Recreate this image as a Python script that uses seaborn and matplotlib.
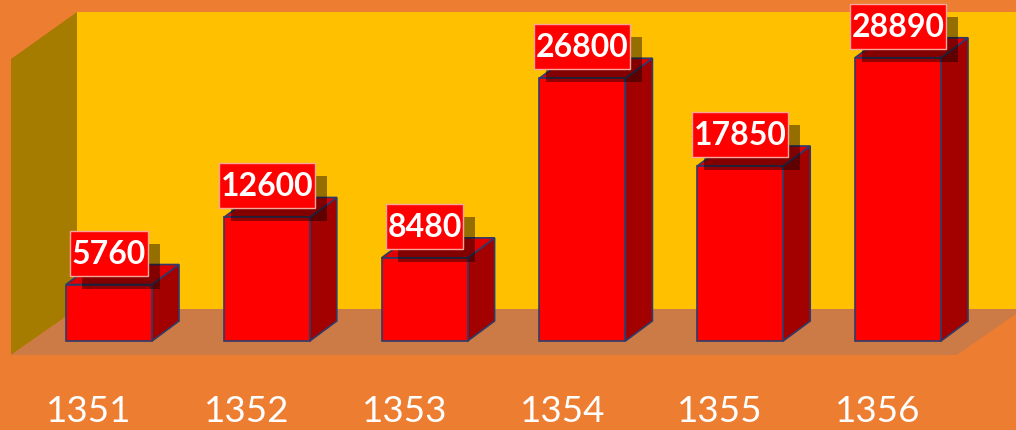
import numpy as np
import pandas as pd
import matplotlib
matplotlib.use("Agg")
import matplotlib.pyplot as plt
import matplotlib.transforms as mtransforms
from matplotlib.patches import Polygon, Rectangle
import seaborn as sns

years = ["1351", "1352", "1353", "1354", "1355", "1356"]
values = [5760, 12600, 8480, 26800, 17850, 28890]

W, H, DPI = 1016, 431, 100
sns.set_style("white")
plt.rcParams["font.family"] = ["Lato", "DejaVu Sans"]

fig = plt.figure(figsize=(W / DPI, H / DPI), dpi=DPI)
fig.patch.set_facecolor("#ED7D31")

# ---- background "3D" walls in pixel coordinates ----
bg = fig.add_axes([0, 0, 1, 1])
bg.set_xlim(0, W)
bg.set_ylim(H, 0)
bg.axis("off")
bg.add_patch(Polygon([(77, 13), (W, 13), (W, 310), (77, 310)], closed=True,
                     fc="#FFC000", ec="none"))
bg.add_patch(Polygon([(11, 60), (77, 13), (77, 310), (11, 356)], closed=True,
                     fc="#A67C00", ec="none"))
bg.add_patch(Polygon([(11, 356), (77, 310), (1023, 310), (957, 356)], closed=True,
                     fc="#CD7B46", ec="none"))

# ---- main data axes ----
PX_CAT = 157.8          # pixels per category
X0 = 109                # pixel of first category centre
Y0 = 342                # pixel row (from top) of value zero
UPP = 102.0             # data units per pixel

ax = fig.add_axes([0, 0, 1, 1])
ax.patch.set_alpha(0)
df = pd.DataFrame({"year": years, "value": values})
sns.barplot(data=df, x="year", y="value", ax=ax, color="#FF0000", saturation=1,
            width=86 / PX_CAT, edgecolor="#2E3B6A", linewidth=1.2, zorder=3)
ax.set_xlim(-X0 / PX_CAT, (W - X0) / PX_CAT)
ax.set_ylim((Y0 - H) * UPP, Y0 * UPP)
ax.axis("off")

dx = 27 / PX_CAT
dy = 20 * UPP
edge = "#2E3B6A"
for p, v in zip(ax.patches[:len(values)], values):
    x0, w, h = p.get_x(), p.get_width(), p.get_height()
    side = [(x0 + w, 0), (x0 + w + dx, dy), (x0 + w + dx, h + dy), (x0 + w, h)]
    top = [(x0, h), (x0 + dx, h + dy), (x0 + w + dx, h + dy), (x0 + w, h)]
    ax.add_patch(Polygon(side, closed=True, fc="#A30000", ec=edge, lw=1.2, zorder=2))
    ax.add_patch(Polygon(top, closed=True, fc="#E00000", ec=edge, lw=1.2, zorder=2))

    cx = x0 + w / 2
    label = f"{v}"
    bw = 19 * len(label) + 1
    bh = 45
    anchor = mtransforms.ScaledTranslation(cx, h, ax.transData)
    # shadow
    ax.add_patch(Rectangle((0, 0), bw, bh, fc=(0, 0, 0, 0.42), ec="none", zorder=4,
                           transform=mtransforms.Affine2D().translate(-bw / 2 + 12, 9 - 13) + anchor))
    # label box
    ax.add_patch(Rectangle((0, 0), bw, bh, fc="#FF0000", ec="#F6A79A", lw=1.0, zorder=5,
                           transform=mtransforms.Affine2D().translate(-bw / 2, 9) + anchor))
    ax.text(cx, h + 31.5 * UPP, label, ha="center", va="center", fontsize=23,
            fontweight="bold", color="white", zorder=6)

# year labels
lab_tr = ax.transData + mtransforms.ScaledTranslation(-20 / DPI, 0, fig.dpi_scale_trans)
for i, yr in enumerate(years):
    ax.text(i, (Y0 - 412) * UPP, yr, transform=lab_tr, ha="center", va="center",
            fontsize=26.5, color="white", zorder=5)

fig.savefig("out.png", dpi=DPI, facecolor=fig.get_facecolor())
